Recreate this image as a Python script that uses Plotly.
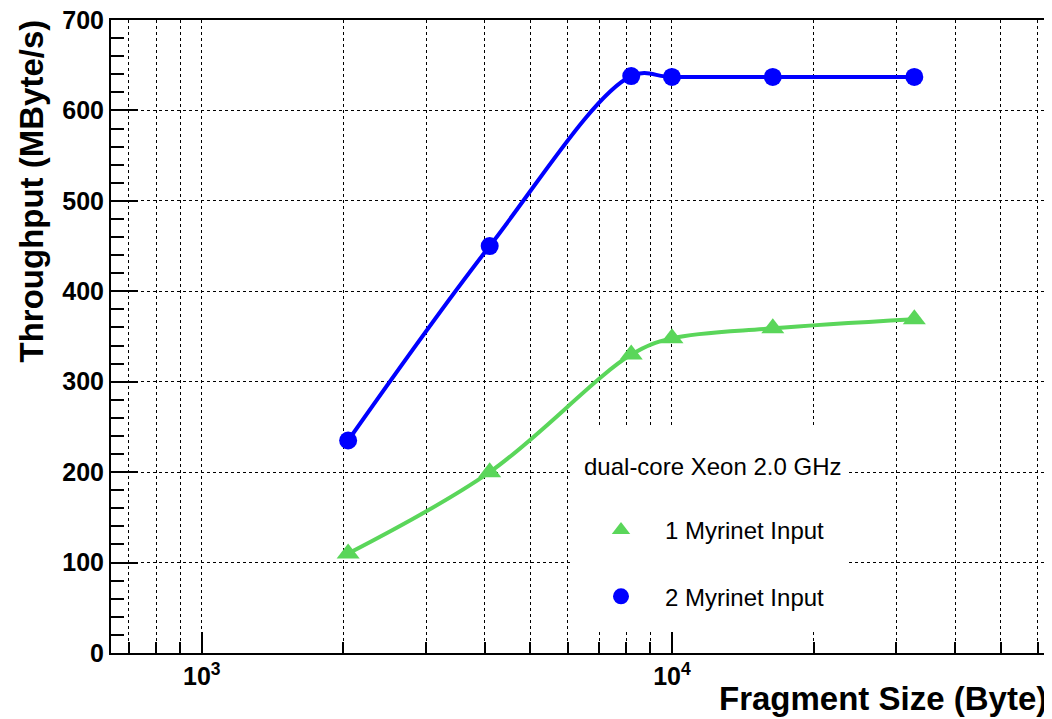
import plotly.graph_objects as go

# ---- data ----
fragment_size = [2048, 4096, 8192, 10000, 16384, 32768]
one_input = [110, 200, 330, 348, 359, 369]
two_input = [235, 450, 638, 637, 637, 637]

x_major = [1000, 10000]
x_major_text = ["10<sup>3</sup>", "10<sup>4</sup>"]
x_minor = [700, 800, 900, 2000, 3000, 4000, 5000, 6000, 7000, 8000, 9000,
           20000, 30000, 40000, 50000, 60000]

legend_header = "dual-core Xeon 2.0 GHz"
name1 = "1 Myrinet Input"
name2 = "2 Myrinet Input"

GREEN = "#5ad65a"
BLUE = "#0000ff"
FONT = "Liberation Sans, Arial, sans-serif"

# page body has an 8px margin; compensate so the plot lands where the reference has it
OFF = 8
PLOT_L, PLOT_R, PLOT_T, PLOT_B = 111, 1050, 20, 653
W, H = 1044, 711
L = PLOT_L - OFF
T = PLOT_T - OFF
PW = PLOT_R - PLOT_L
PH = PLOT_B - PLOT_T
R = W - L - PW
B = H - T - PH


def px(xp):
    return (xp - PLOT_L) / PW


def py(yp):
    return (PLOT_B - yp) / PH


fig = go.Figure()

# smooth curves
fig.add_trace(go.Scatter(x=fragment_size, y=one_input, mode="lines",
                         line=dict(color=GREEN, width=4, shape="spline", smoothing=1.0),
                         showlegend=False, hoverinfo="skip"))
fig.add_trace(go.Scatter(x=fragment_size, y=two_input, mode="lines",
                         line=dict(color=BLUE, width=4, shape="spline", smoothing=1.0),
                         showlegend=False, hoverinfo="skip"))
# markers
fig.add_trace(go.Scatter(x=fragment_size, y=one_input, mode="markers", name=name1,
                         legendgroup="g1",
                         marker=dict(symbol="triangle-up", size=20, color=GREEN)))
fig.add_trace(go.Scatter(x=fragment_size, y=two_input, mode="markers", name=name2,
                         legendgroup="g2",
                         marker=dict(symbol="circle", size=18, color=BLUE)))

tick_font = dict(family=FONT, size=25, color="black", weight="bold")

fig.update_xaxes(
    type="log", range=[2.807, 4.804], automargin=False,
    tickmode="array", tickvals=x_major, ticktext=x_major_text,
    ticks="inside", ticklen=21, tickwidth=1.5, tickcolor="black",
    tickfont=tick_font, ticklabeloverflow="allow",
    showgrid=True, gridcolor="black", griddash="dot", gridwidth=1,
    minor=dict(tickmode="array", tickvals=x_minor, ticks="inside", ticklen=11,
               tickwidth=1.5, tickcolor="black", showgrid=True,
               gridcolor="black", griddash="dot", gridwidth=1),
    showline=True, linecolor="black", linewidth=2, mirror=True,
    zeroline=False,
)
fig.update_yaxes(
    range=[0, 700], automargin=False,
    tickmode="linear", tick0=0, dtick=100,
    ticks="inside", ticklen=27, tickwidth=1.5, tickcolor="black",
    tickfont=tick_font, ticklabeloverflow="allow",
    showgrid=True, gridcolor="black", griddash="dot", gridwidth=1,
    minor=dict(dtick=20, ticks="inside", ticklen=13, tickwidth=1.5,
               tickcolor="black", showgrid=False),
    showline=True, linecolor="black", linewidth=2, mirror=True,
    zeroline=False,
)

# white legend box
fig.add_shape(type="rect", xref="paper", yref="paper",
              x0=px(572), x1=px(848), y0=py(630), y1=py(427),
              fillcolor="white", line=dict(width=0), layer="above")

annotations = [
    dict(text="Throughput (MByte/s)", xref="paper", yref="paper",
         x=px(31), y=py(18), xanchor="center", yanchor="top", textangle=-90,
         showarrow=False,
         font=dict(family=FONT, size=33, color="black", weight="bold")),
    dict(text="Fragment Size (Byte)", xref="paper", yref="paper",
         x=px(1049), y=py(698), xanchor="right", yanchor="middle",
         showarrow=False,
         font=dict(family=FONT, size=33, color="black", weight="bold")),
    dict(text=legend_header, xref="paper", yref="paper",
         x=px(582), y=py(466), xanchor="left", yanchor="middle",
         showarrow=False,
         font=dict(family=FONT, size=24, color="black")),
]
fig.update_layout(annotations=annotations)

fig.update_layout(
    width=W, height=H,
    margin=dict(l=L, r=R, t=T, b=B, autoexpand=False),
    paper_bgcolor="white", plot_bgcolor="white",
    font=dict(family=FONT, color="black"),
    showlegend=True,
    legend=dict(x=px(577), y=py(508), xanchor="left", yanchor="top",
                bgcolor="rgba(0,0,0,0)", borderwidth=0,
                font=dict(family=FONT, size=24, color="black"),
                itemwidth=78, tracegroupgap=32, itemclick=False),
)

fig.write_html("out.html")
